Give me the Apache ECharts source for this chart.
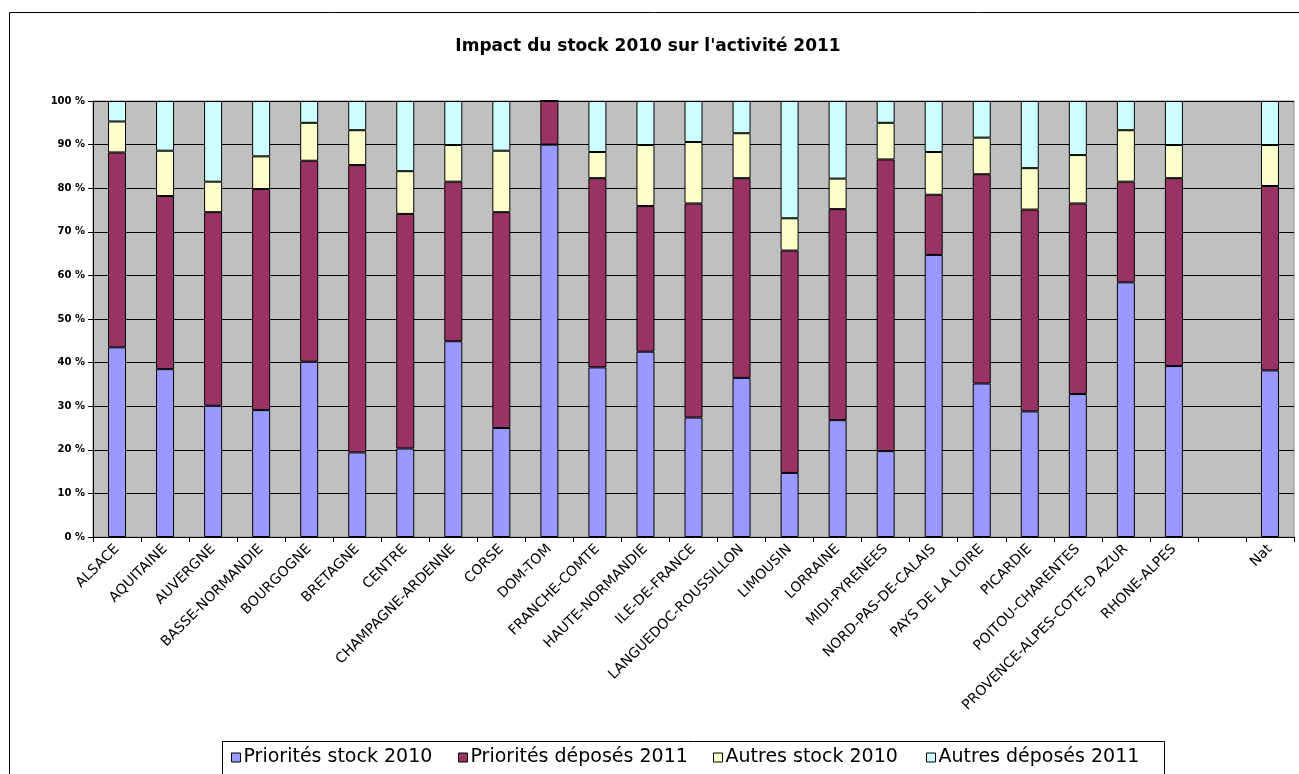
<!DOCTYPE html>
<html>
<head>
<meta charset="utf-8">
<script src="https://cdn.jsdelivr.net/npm/echarts@6/dist/echarts.min.js"></script>
<style>
  html, body { margin: 0; padding: 0; background: #ffffff; }
  #chart { width: 1299px; height: 774px; }
</style>
</head>
<body>
<div id="chart"></div>
<script>
const titleText = "Impact du stock 2010 sur l'activité 2011";
const categories = ["ALSACE", "AQUITAINE", "AUVERGNE", "BASSE-NORMANDIE", "BOURGOGNE", "BRETAGNE", "CENTRE",
  "CHAMPAGNE-ARDENNE", "CORSE", "DOM-TOM", "FRANCHE-COMTE", "HAUTE-NORMANDIE", "ILE-DE-FRANCE",
  "LANGUEDOC-ROUSSILLON", "LIMOUSIN", "LORRAINE", "MIDI-PYRENEES", "NORD-PAS-DE-CALAIS", "PAYS DE LA LOIRE",
  "PICARDIE", "POITOU-CHARENTES", "PROVENCE-ALPES-COTE-D AZUR", "RHONE-ALPES", "", "Nat"];
const seriesNames = ["Priorités stock 2010", "Priorités déposés 2011", "Autres stock 2010", "Autres déposés 2011"];
const seriesColors = ["#9999FF", "#993366", "#FFFFCC", "#CCFFFF"];
const prioritesStock2010   = [43.5, 38.5, 30.1, 29.1, 40.2, 19.4, 20.3, 44.9, 25.0, 90.0, 38.9, 42.5, 27.4, 36.5, 14.7, 26.8, 19.7, 64.7, 35.2, 28.8, 32.8, 58.4, 39.2, null, 38.2];
const prioritesDeposes2011 = [44.7, 39.7, 44.4, 50.7, 46.1, 65.9, 53.8, 36.6, 49.5, 10.0, 43.4, 33.4, 49.1, 45.8, 51.0, 48.4, 66.9, 13.8, 48.0, 46.3, 43.7, 23.1, 43.1, null, 42.3];
const autresStock2010      = [7.1, 10.4, 7.0, 7.5, 8.7, 8.0, 9.8, 8.4, 14.1, 0, 6.0, 14.0, 14.1, 10.3, 7.4, 7.0, 8.4, 9.8, 8.4, 9.5, 11.1, 11.8, 7.6, null, 9.4];
const autresDeposes2011    = [4.7, 11.4, 18.5, 12.7, 5.0, 6.7, 16.1, 10.1, 11.4, 0, 11.7, 10.1, 9.4, 7.4, 26.9, 17.8, 5.0, 11.7, 8.4, 15.4, 12.4, 6.7, 10.1, null, 10.1];
const seriesValues = [prioritesStock2010, prioritesDeposes2011, autresStock2010, autresDeposes2011];
const legendLefts = [231, 458, 713, 926];

const chart = echarts.init(document.getElementById('chart'), null, { renderer: 'canvas' });

const series = seriesNames.map((name, i) => ({
  name: name,
  type: 'bar',
  stack: 'total',
  barWidth: 18,
  data: seriesValues[i],
  itemStyle: { color: seriesColors[i], borderColor: '#000', borderWidth: 1 },
  emphasis: { disabled: true }
}));

const legends = seriesNames.map((name, i) => ({
  data: [name],
  left: legendLefts[i],
  top: 748,
  padding: 0,
  icon: 'rect',
  itemWidth: 9,
  itemHeight: 9,
  itemGap: 0,
  selectedMode: false,
  itemStyle: { borderColor: '#000', borderWidth: 1 },
  textStyle: { fontFamily: 'DejaVu Sans', fontSize: 19, color: '#000', padding: [0, 0, 0, -2] }
}));

chart.setOption({
  animation: false,
  backgroundColor: '#ffffff',
  title: {
    text: titleText,
    left: 643,
    top: 33,
    textAlign: 'center',
    textStyle: { fontFamily: 'DejaVu Sans', fontWeight: 'bold', fontSize: 17, color: '#000' }
  },
  legend: legends,
  grid: {
    left: 93, right: 5, top: 101, bottom: 237,
    show: true, backgroundColor: '#C0C0C0', borderColor: '#888', borderWidth: 1
  },
  xAxis: {
    type: 'category',
    data: categories,
    boundaryGap: true,
    axisLine: { lineStyle: { color: '#000', width: 1 } },
    axisTick: { show: true, interval: 0, length: 5, lineStyle: { color: '#000' } },
    axisLabel: {
      interval: 0, rotate: 45, margin: 10,
      fontFamily: 'DejaVu Sans', fontSize: 14, color: '#000'
    },
    splitLine: { show: false }
  },
  yAxis: {
    type: 'value',
    min: 0, max: 100, interval: 10,
    axisLine: { show: true, lineStyle: { color: '#000', width: 1 } },
    axisTick: { show: true, length: 5, lineStyle: { color: '#000' } },
    axisLabel: {
      formatter: '{value} %', margin: 8,
      fontFamily: 'DejaVu Sans', fontWeight: 'bold', fontSize: 10, color: '#000'
    },
    splitLine: { show: true, lineStyle: { color: '#000', width: 1 } }
  },
  graphic: [
    { type: 'rect', silent: true, z: -1,
      shape: { x: 9.5, y: 12.5, width: 1400, height: 900 },
      style: { fill: 'none', stroke: '#000', lineWidth: 1 } },
    { type: 'rect', silent: true, z: -1,
      shape: { x: 222.5, y: 741.5, width: 942, height: 100 },
      style: { fill: 'none', stroke: '#000', lineWidth: 1 } }
  ],
  series: series
});
</script>
</body>
</html>
